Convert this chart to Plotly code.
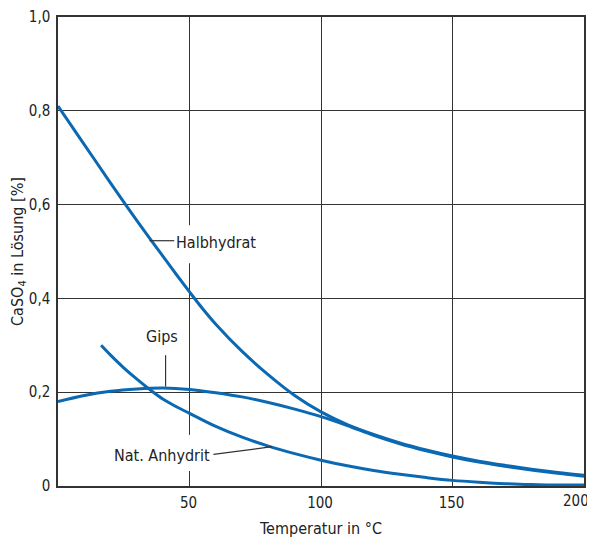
import plotly.graph_objects as go

# Halbhydrat
t_halb = [0, 10, 20, 30, 40, 45, 50, 55, 60, 70, 80, 90, 100, 110, 120, 130, 140, 150, 160, 170, 180, 190, 200]
v_halb = [0.81, 0.728, 0.646, 0.566, 0.489, 0.451, 0.414, 0.378, 0.345, 0.287, 0.237, 0.193, 0.158, 0.131, 0.110, 0.092, 0.077, 0.064, 0.053, 0.044, 0.036, 0.029, 0.023]

# Gips
t_gips = [0, 10, 20, 30, 40, 50, 60, 70, 80, 90, 100, 110, 120, 130, 140, 150, 160, 170, 180, 190, 200]
v_gips = [0.180, 0.193, 0.202, 0.207, 0.209, 0.206, 0.199, 0.190, 0.178, 0.164, 0.148, 0.129, 0.108, 0.090, 0.075, 0.062, 0.051, 0.042, 0.034, 0.027, 0.021]

# Nat. Anhydrit
t_anh = [16.4, 20, 25, 30, 36, 40, 45, 50, 60, 70, 80, 90, 100, 110, 120, 130, 140, 150, 160, 170, 180, 190, 200]
v_anh = [0.300, 0.279, 0.252, 0.228, 0.201, 0.185, 0.169, 0.155, 0.127, 0.104, 0.085, 0.069, 0.055, 0.043, 0.033, 0.025, 0.018, 0.012, 0.008, 0.005, 0.003, 0.002, 0.002]

x_ticks = [50, 100, 150, 200]
x_ticktext = ["50", "100", "150", "200"]
y_ticks = [0, 0.2, 0.4, 0.6, 0.8, 1.0]
y_ticktext = ["0", "0,2", "0,4", "0,6", "0,8", "1,0"]

BLUE = "#0a69b2"
DARK = "#333333"
TXT = "#222222"
FONT = "DejaVu Sans Condensed, sans-serif"

fig = go.Figure()
for tx, vy, name in [(t_halb, v_halb, "Halbhydrat"), (t_gips, v_gips, "Gips"), (t_anh, v_anh, "Nat. Anhydrit")]:
    fig.add_trace(go.Scatter(x=tx, y=vy, mode="lines", name=name,
                             line=dict(color=BLUE, width=3, shape="spline", smoothing=1.0),
                             showlegend=False, hoverinfo="skip"))

# white gaps in the 50-gridline behind labels
fig.add_shape(type="rect", xref="x", yref="y", x0=48, x1=52, y0=0.475, y1=0.556,
              fillcolor="white", line=dict(width=0), layer="between")
fig.add_shape(type="rect", xref="x", yref="y", x0=48, x1=52, y0=0.032, y1=0.109,
              fillcolor="white", line=dict(width=0), layer="between")

# leader lines
fig.add_shape(type="line", xref="x", yref="y", x0=34.8, y0=0.523, x1=44.2, y1=0.523,
              line=dict(color=DARK, width=1.2), layer="above")
fig.add_shape(type="line", xref="x", yref="y", x0=40.9, y0=0.279, x1=40.9, y1=0.212,
              line=dict(color=DARK, width=1.2), layer="above")
fig.add_shape(type="line", xref="x", yref="y", x0=59.1, y0=0.0676, x1=81.4, y1=0.0838,
              line=dict(color=DARK, width=1.2), layer="above")

ann_font = dict(family=FONT, size=16, color=TXT)
fig.add_annotation(x=60.15, y=0.519, xref="x", yref="y", text="Halbhydrat", showarrow=False,
                   xanchor="center", yanchor="middle", font=ann_font)
fig.add_annotation(x=39.5, y=0.318, xref="x", yref="y", text="Gips", showarrow=False,
                   xanchor="center", yanchor="middle", font=ann_font)
fig.add_annotation(x=39.5, y=0.066, xref="x", yref="y", text="Nat. Anhydrit", showarrow=False,
                   xanchor="center", yanchor="middle", font=ann_font)

# last x tick label sits slightly left of its gridline so it stays inside the picture
fig.add_annotation(x=x_ticks[-1], y=0, xref="x", yref="paper", text=x_ticktext[-1],
                   showarrow=False, xanchor="right", yanchor="top", xshift=7, yshift=-4,
                   font=dict(family=FONT, size=15, color=TXT))

# page body has an 8px margin: figure is shifted by (8, 8) in the window
fig.update_layout(
    width=587, height=537,
    margin=dict(l=50, r=11, t=9, b=59),
    paper_bgcolor="white", plot_bgcolor="white",
    font=dict(family=FONT, size=15, color=TXT),
    xaxis=dict(range=[0, 200], tickvals=x_ticks[:-1], ticktext=x_ticktext[:-1],
               showgrid=True, gridcolor=DARK, gridwidth=1.2,
               showline=True, linecolor=DARK, linewidth=1.5, mirror=True,
               zeroline=False, ticks="", ticklabelstandoff=2, automargin=False,
               ticklabelshift=-1,
               title=dict(text="Temperatur in °C", standoff=12, font=dict(size=16))),
    yaxis=dict(range=[0, 1.0], tickvals=y_ticks, ticktext=y_ticktext,
               showgrid=True, gridcolor=DARK, gridwidth=1.2,
               showline=True, linecolor=DARK, linewidth=1.5, mirror=True,
               zeroline=False, ticks="", ticklabelstandoff=3, automargin=False,
               title=dict(text="CaSO<sub>4</sub> in Lösung [%]", standoff=2, font=dict(size=16))),
)

fig.write_html("out.html")
